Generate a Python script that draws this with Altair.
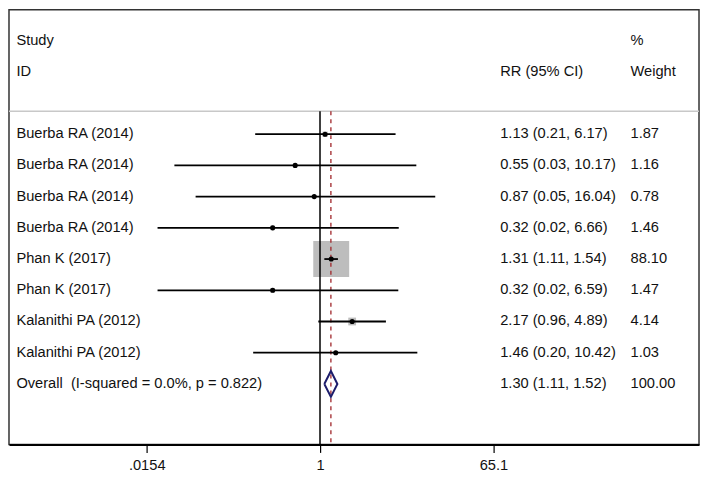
import altair as alt
import pandas as pd

# ---- data ----
studies = ["Buerba RA (2014)", "Buerba RA (2014)", "Buerba RA (2014)", "Buerba RA (2014)",
           "Phan K (2017)", "Phan K (2017)", "Kalanithi PA (2012)", "Kalanithi PA (2012)"]
rr = [1.13, 0.55, 0.87, 0.32, 1.31, 0.32, 2.17, 1.46]
ci_lo = [0.21, 0.03, 0.05, 0.02, 1.11, 0.02, 0.96, 0.20]
ci_hi = [6.17, 10.17, 16.04, 6.66, 1.54, 6.59, 4.89, 10.42]
weights = [1.87, 1.16, 0.78, 1.46, 88.10, 1.47, 4.14, 1.03]
overall_label = "Overall \u00a0(I-squared = 0.0%, p = 0.822)"
overall_rr, overall_lo, overall_hi, overall_w = 1.30, 1.11, 1.52, 100.00
tick_values = [0.0154, 1, 65.1]
tick_labels = [".0154", "1", "65.1"]
header_left = ["Study", "ID"]
header_mid = "RR (95% CI)"
header_right = ["%", "Weight"]

# ---- layout ----
W, H = 692, 436
X_DOMAIN = [0.000559, 9198]
Y_DOMAIN = [-0.988, 12.937]
SEP_ROW = 2.264
FONT = "Liberation Sans"
FS = 14.7
TXT = "#111111"
X_STUDY, X_RR, X_WT = 7.4, 492.6, 623.3

n = len(studies)
rows = list(range(3, 3 + n))
overall_row = 3 + n

df = pd.DataFrame({"label": studies, "rr": rr, "lo": ci_lo, "hi": ci_hi, "w": weights, "row": rows})

txt_rows = pd.DataFrame({
    "label": studies + [overall_label],
    "rrtxt": [f"{a:.2f} ({b:.2f}, {c:.2f})" for a, b, c in zip(rr + [overall_rr], ci_lo + [overall_lo], ci_hi + [overall_hi])],
    "wtxt": [f"{w:.2f}" for w in weights + [overall_w]],
    "row": rows + [overall_row],
})

hdr_left = pd.DataFrame({"t": header_left, "row": [0, 1]})
hdr_mid = pd.DataFrame({"t": [header_mid], "row": [1]})
hdr_right = pd.DataFrame({"t": header_right, "row": [0, 1]})

half_h = 0.414
diamond = pd.DataFrame({
    "x": [overall_lo, overall_rr, overall_hi, overall_rr, overall_lo],
    "row": [overall_row, overall_row - half_h, overall_row, overall_row + half_h, overall_row],
    "o": [0, 1, 2, 3, 4],
})

vlines = pd.DataFrame({"x": [1.0], "y": [SEP_ROW], "y2": [Y_DOMAIN[1]]})
olines = pd.DataFrame({"x": [overall_rr], "y": [SEP_ROW], "y2": [Y_DOMAIN[1]]})
sep = pd.DataFrame({"y": [SEP_ROW]})

label_expr = " : ".join(
    f"abs(datum.value - {v}) < {v * 1e-3} ? '{l}'" for v, l in zip(tick_values, tick_labels)
) + " : ''"

xs = alt.Scale(type="log", domain=X_DOMAIN, nice=False)
ys = alt.Scale(domain=Y_DOMAIN, reverse=True, nice=False, zero=False)
xaxis = alt.Axis(values=tick_values, labelExpr=label_expr, title=None, grid=False)

def X(f):
    return alt.X(f, scale=xs, axis=xaxis)

def Y(f):
    return alt.Y(f, scale=ys, axis=None)

squares = alt.Chart(df).mark_square(color="#bdbdbd", opacity=1).encode(
    x=X("rr:Q"), y=Y("row:Q"),
    size=alt.Size("w:Q", scale=alt.Scale(domain=[0, 88.1], range=[0, 1296]), legend=None),
)
sep_rule = alt.Chart(sep).mark_rule(color="#c8c8c8", strokeWidth=1.5).encode(
    y=Y("y:Q"), x=alt.value(0), x2=alt.value(W)
)
null_rule = alt.Chart(vlines).mark_rule(color="black", strokeWidth=1.5).encode(
    x=X("x:Q"), y=Y("y:Q"), y2="y2:Q"
)
ov_rule = alt.Chart(olines).mark_rule(color="#a0262a", strokeWidth=1.3, strokeDash=[4, 4]).encode(
    x=X("x:Q"), y=Y("y:Q"), y2="y2:Q"
)
ci = alt.Chart(df).mark_rule(color="black", strokeWidth=1.8).encode(
    x=X("lo:Q"), x2="hi:Q", y=Y("row:Q")
)
dots = alt.Chart(df).mark_circle(color="black", size=26, opacity=1).encode(
    x=X("rr:Q"), y=Y("row:Q")
)
dia = alt.Chart(diamond).mark_line(color="#1c1c6b", strokeWidth=2).encode(
    x=X("x:Q"), y=Y("row:Q"), order="o:Q"
)

def tx(data, field, xpos):
    return alt.Chart(data).mark_text(
        align="left", baseline="middle", font=FONT, fontSize=FS, color=TXT
    ).encode(x=alt.value(xpos), y=Y("row:Q"), text=f"{field}:N")

chart = alt.layer(
    squares, sep_rule, null_rule, ov_rule, ci, dots, dia,
    tx(txt_rows, "label", X_STUDY), tx(txt_rows, "rrtxt", X_RR), tx(txt_rows, "wtxt", X_WT),
    tx(hdr_left, "t", X_STUDY), tx(hdr_mid, "t", X_RR), tx(hdr_right, "t", X_WT),
).properties(
    width=W, height=H,
    padding={"left": 1, "top": 1, "right": 2, "bottom": 28},
    autosize=alt.AutoSizeParams(type="none"),
    background="white",
).configure_view(
    stroke="#333333", strokeWidth=1.5
).configure_axis(
    domainColor="black", domainWidth=2, tickColor="black", tickSize=8, tickWidth=1.2,
    labelFont=FONT, labelFontSize=FS, labelColor=TXT, labelPadding=5, grid=False,
)

chart.save("out.html", embed_options={"renderer": "svg", "actions": False})
